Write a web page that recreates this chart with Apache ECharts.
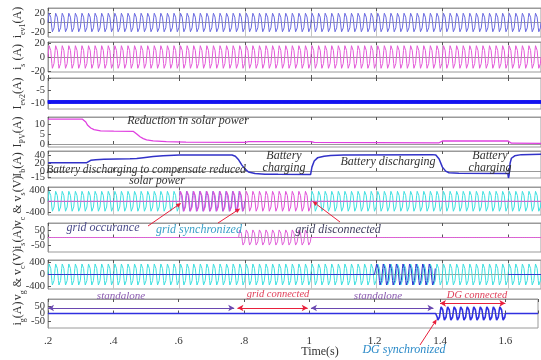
<!DOCTYPE html>
<html><head><meta charset="utf-8">
<script src="https://cdn.jsdelivr.net/npm/echarts@6/dist/echarts.min.js"></script>
<style>html,body{margin:0;padding:0;background:#fff}#c{width:541px;height:360px}</style>
</head><body><div id="c"></div>
<script>
// ---------------- data ----------------
const timeTicks = [0.2, 0.4, 0.6, 0.8, 1.0, 1.2, 1.4, 1.6];
const timeTickLabels = ['.2', '.4', '.6', '.8', '1', '1.2', '1.4', '1.6'];
const timeStart = 0.2, timeEnd = 1.7;
const cyclePeriod = 0.02;                       // 50 Hz waveforms
const cycleShape = [0, 0.5, 0.87, 1, 0.87, 0.5, 0, -0.5, -0.87, -1, -0.87, -0.5];
// segments: [start, end, amplitude (null = not drawn), phase shift in samples]
const iev1Segments = [[0.2, 1.7, 22, 0]];
const isSegments = [[0.2, 1.7, 18.5, 0]];
const iev2RipplePeriod = 0.0016;
const iev2RippleShape = [-9.0, -10.3];
const ipvPoints = [[0.2,12.4],[0.305,12.4],[0.31,12.2],[0.315,11],[0.32,9.5],[0.33,8],[0.34,7.2],[0.36,6.6],[0.40,6.4],[0.46,6.3],[0.465,6.0],[0.47,5],[0.48,3.6],[0.49,2.7],[0.50,2.1],[0.52,1.6],[0.56,1.2],[0.62,0.9],[0.8,0.8],[0.81,1.2],[1.0,1.2],[1.01,0.8],[1.39,0.6],[1.40,1.5],[1.6,1.5],[1.61,0.4],[1.7,0.3]];
const ibPoints = [[0.2,21],[0.318,21],[0.322,24],[0.33,27],[0.345,28.5],[0.37,29.5],[0.45,30.5],[0.47,31.5],[0.49,33.5],[0.52,36.5],[0.55,38.5],[0.6,40],[0.76,40],[0.77,37],[0.78,28],[0.79,15],[0.80,5],[0.81,-2],[0.83,-6],[0.86,-7.5],[0.9,-8],[0.999,-8.5],[1.003,10],[1.01,25],[1.02,33],[1.04,37],[1.06,39],[1.1,40],[1.37,41],[1.38,40],[1.39,30],[1.40,10],[1.41,0],[1.42,-4],[1.45,-5.5],[1.599,-6],[1.601,-17],[1.603,-10],[1.606,20],[1.61,32],[1.62,38],[1.64,41],[1.7,42]];
const vcSegments = [[0.2, 0.6, 400, 0], [0.6, 1.0, null, 0], [1.0, 1.7, 400, 0]];
const vcShiftedSegments = [[0.2, 0.6, null, 0], [0.6, 0.8, 400, 1], [0.8, 1.7, null, 0]];
const vsSegments = [[0.2, 0.6, 0, 0], [0.6, 1.0, 400, 0], [1.0, 1.7, 0, 0]];
const isGridSegments = [[0.2, 0.78, 0, 0], [0.78, 1.0, 60, 0], [1.0, 1.7, 0, 0]];
const vc2Segments = [[0.2, 1.7, 400, 0]];
const vgSegments = [[0.2, 1.2, 0, 0], [1.2, 1.38, 400, 2], [1.38, 1.6, null, 0], [1.6, 1.7, 0, 0]];
const igSegments = [[0.2, 1.39, 0, 0], [1.39, 1.6, 52, 0], [1.6, 1.7, 0, 0]];
// mode arrows in the last panel: [start, end, value, kind]
const modeArrows = [[0.2, 0.77, 38, 'standalone'], [0.78, 0.995, 38, 'grid'], [1.005, 1.38, 38, 'standalone'], [1.4, 1.6, 70, 'grid']];
const yTickValues = [[-20,0,20],[-20,0,20],[-10,-5,0],[0,5,10],[-15,0,20,40],[-400,0,400],[-50,0,50],[-400,0,400],[-50,0,50]];
const yRanges = [[-30,30],[-21.4,21.4],[-12.5,0],[-1.5,13.5],[-17,50],[-480,500],[-100,100],[-480,480],[-100,100]];
const yNames = [
  '{t|i}{s|ev1}{t|(A)}', '{t|i}{s|s}{t| (A)}', '{t|I}{s|ev2}{t|(A)}', '{t|I}{s|PV}{t|(A)}', '{t|I}{s|b}{t|(A)}',
  '{t|v}{s|c}{t| & v}{s|s}{t|(V)}', '{t|i}{s|s}{t|(A)}', '{t|v}{s|g}{t| & v}{s|c}{t|(V)}', '{t|i}{s|g}{t|(A)}'
];

// ---------------- build ----------------
function tile(segments, shape, period) {
  const n = shape.length, dt = period / n, out = [];
  const steps = Math.round((timeEnd - timeStart) / dt);
  for (let k = 0; k <= steps; k++) {
    const t = timeStart + k * dt;
    let seg = segments.find(s => t >= s[0] - 1e-9 && t < s[1] - 1e-9) || segments[segments.length - 1];
    const a = seg[2];
    out.push([+t.toFixed(6), a == null ? null : a * shape[(k + seg[3]) % n]]);
  }
  return out;
}

const layout = [
  {top: 8, h: 29, split: true}, {top: 42, h: 30, split: true}, {top: 78, h: 31}, {top: 117, h: 30},
  {top: 151, h: 27}, {top: 187, h: 28, split: true}, {top: 223, h: 29}, {top: 260, h: 29, split: true}, {top: 299, h: 29}
];
const FONT = 'Liberation Serif';
const grids = [], xAxes = [], yAxes = [];
layout.forEach((p, i) => {
  grids.push({left: 48, width: 495, top: p.top, height: p.h, show: true, borderColor: '#9a9a9a', borderWidth: 1, containLabel: false});
  const base = {
    gridIndex: i, type: 'value', min: timeStart, max: timeEnd, interval: 0.2,
    axisLine: {show: true, lineStyle: {color: '#9a9a9a'}},
    axisTick: {show: true, inside: true, length: 3, lineStyle: {color: '#555'}}
  };
  xAxes.push(Object.assign({}, base, {
    position: 'bottom',
    axisLabel: {show: i === 8, fontFamily: FONT, fontSize: 11, color: '#333', margin: 8, hideOverlap: false,
      formatter: v => { const j = timeTicks.findIndex(x => Math.abs(x - v) < 1e-6); return j < 0 ? '' : timeTickLabels[j]; }},
    splitLine: {show: !!p.split, lineStyle: {color: '#c4c4c4', width: 1}}
  }));
  xAxes.push(Object.assign({}, base, {position: 'top', axisLabel: {show: false}, splitLine: {show: false}}));
  yAxes.push({
    gridIndex: i, type: 'value', min: yRanges[i][0], max: yRanges[i][1],
    axisLine: {show: true, lineStyle: {color: '#9a9a9a'}},
    axisTick: {show: true, inside: true, length: 3, customValues: yTickValues[i], lineStyle: {color: '#555'}},
    axisLabel: {show: false},
    splitLine: {show: false},
    name: yNames[i], nameLocation: 'middle', nameRotate: 90, nameGap: 24,
    nameTextStyle: {rich: {
      t: {fontFamily: FONT, fontSize: 12, color: '#333'},
      s: {fontFamily: FONT, fontSize: 8, color: '#333', verticalAlign: 'bottom', padding: [0, 0, -3, 0]}
    }}
  });
});

function line(i, data, color, width, extra) {
  return Object.assign({
    type: 'line', xAxisIndex: 2 * i, yAxisIndex: i, data: data, showSymbol: false, symbol: 'none',
    lineStyle: {color: color, width: width || 1}, itemStyle: {color: color}, animation: false, clip: true, silent: true
  }, extra || {});
}

const series = [
  line(0, tile(iev1Segments, cycleShape, cyclePeriod), '#6a6ae0'),
  line(1, tile(isSegments, cycleShape, cyclePeriod), '#e45ad8'),
  line(2, tile([[0.2, 1.7, 1, 0]], iev2RippleShape, iev2RipplePeriod), '#1414f0'),
  line(3, ipvPoints, '#e040e0', 1.3),
  line(4, ibPoints, '#3232c8', 1.5),
  line(5, tile(vcSegments, cycleShape, cyclePeriod), '#3ee0e0'),
  line(5, tile(vcShiftedSegments, cycleShape, cyclePeriod), '#7a68e0'),
  line(5, tile(vsSegments, cycleShape, cyclePeriod), '#e050d8'),
  line(6, tile(isGridSegments, cycleShape, cyclePeriod), '#e060d8'),
  line(7, tile(vc2Segments, cycleShape, cyclePeriod), '#3ee0e0'),
  line(7, tile(vgSegments, cycleShape, cyclePeriod), '#3030d0'),
  line(8, tile(igSegments, cycleShape, cyclePeriod), '#3030e0', 1.6),
  line(8, [], '#000', 1, {
    markLine: {
      silent: true, animation: false, symbol: ['arrow', 'arrow'], symbolSize: [5, 6],
      label: {show: false},
      data: modeArrows.map(a => [
        {coord: [a[0], a[2]], lineStyle: {color: a[3] === 'grid' ? '#e8203c' : '#6a48b0', width: 1, type: 'solid'}},
        {coord: [a[1], a[2]]}
      ])
    }
  })
];

const chart = echarts.init(document.getElementById('c'), null, {renderer: 'canvas'});
chart.setOption({animation: false, backgroundColor: '#fff', grid: grids, xAxis: xAxes, yAxis: yAxes, series: series});

// ---------------- annotations ----------------
function txt(x, y, s, color, size, italic, align) {
  return {type: 'text', x: x, y: y, silent: true, z: 100,
    style: {text: s, fill: color, font: (italic === false ? '' : 'italic ') + (size || 12) + 'px "' + FONT + '"', align: align || 'center', verticalAlign: 'middle'}};
}
// y tick labels placed through the axes' own scales
const yLabels = [];
yTickValues.forEach((vals, i) => {
  vals.forEach(v => {
    const p = chart.convertToPixel({xAxisIndex: 2 * i, yAxisIndex: i}, [timeStart, v]);
    yLabels.push(txt(p[0] - 3, p[1], String(v), '#333', 10.5, false, 'right'));
  });
});
const texts = [
  txt(188, 121, 'Reduction in solar power', '#333'),
  txt(146, 170, 'Battery discharging to compensate reduced', '#333', 11.5),
  txt(157, 181, 'solar power', '#333', 11.5),
  txt(284, 156, 'Battery', '#333'), txt(284, 168, 'charging', '#333'),
  txt(388, 162, 'Battery discharging', '#333'),
  txt(490, 156, 'Battery', '#333'), txt(490, 168, 'charging', '#333'),
  txt(103, 228, 'grid occurance', '#4a4a8a'),
  txt(199, 230, 'grid synchronized', '#3aa0c8'),
  txt(338, 230, 'grid disconnected', '#404060'),
  txt(121, 296, 'standalone', '#8a5ab0', 11),
  txt(278, 294, 'grid connected', '#e0405a', 10.5),
  txt(378, 296, 'standalone', '#8a5ab0', 11),
  txt(477, 295, 'DG connected', '#e0405a', 10.5),
  txt(404, 350, 'DG synchronized', '#2a8ac8', 12),
  txt(320, 352, 'Time(s)', '#333', 12, false)
];
// callouts: tail pixel (text side) -> data point [panel, t, value]
const callouts = [[[148, 226], [5, 0.605, -60]], [[218, 223], [5, 0.785, -250]], [[340, 222], [5, 1.005, 0]], [[420, 345], [8, 1.39, -40]]];
const arrows = [];
callouts.forEach(c => {
  const p = c[1];
  const to = chart.convertToPixel({xAxisIndex: 2 * p[0], yAxisIndex: p[0]}, [p[1], p[2]]);
  const from = c[0];
  const ang = Math.atan2(to[1] - from[1], to[0] - from[0]);
  const L = 5, W = 2.2;
  const bx = to[0] - L * Math.cos(ang), by = to[1] - L * Math.sin(ang);
  arrows.push({type: 'line', silent: true, z: 101, shape: {x1: from[0], y1: from[1], x2: bx, y2: by}, style: {stroke: '#e8203c', lineWidth: 1}});
  arrows.push({type: 'polygon', silent: true, z: 101, shape: {points: [to, [bx + W * Math.sin(ang), by - W * Math.cos(ang)], [bx - W * Math.sin(ang), by + W * Math.cos(ang)]]}, style: {fill: '#e8203c'}});
});
chart.setOption({graphic: yLabels.concat(texts, arrows)});
</script></body></html>
